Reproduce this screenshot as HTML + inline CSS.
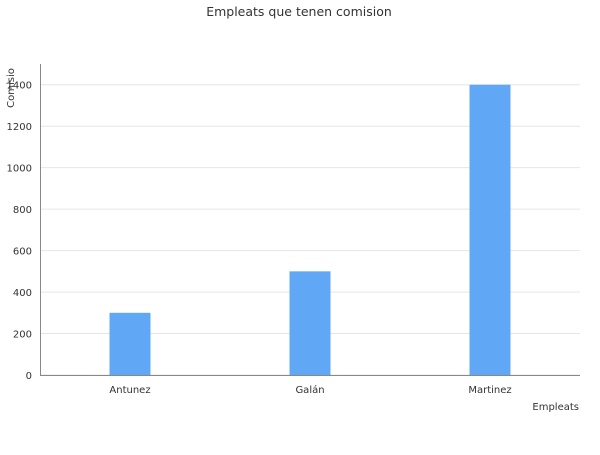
<!DOCTYPE html>
<html><head><meta charset="utf-8"><style>
body{margin:0;background:#fff;width:600px;height:450px;overflow:hidden}
text{font-family:"DejaVu Sans","Liberation Sans",sans-serif;fill:#333}
</style></head><body>
<svg id="chart" width="600" height="450" xmlns="http://www.w3.org/2000/svg">
<text x="299" y="16" font-size="12.5" text-anchor="middle">Empleats que tenen comision</text>
<g id="grid"></g><g id="bars"></g><g id="axes"></g>
<text transform="translate(14,88) rotate(-90)" font-size="10" text-anchor="middle">Comisio</text>
<text x="579" y="410" font-size="10" text-anchor="end">Empleats</text>
</svg>
<script>
const categories=["Antunez","Galán","Martinez"];
const values=[300,500,1400];
const yTicks=[0,200,400,600,800,1000,1200,1400];
const ns="http://www.w3.org/2000/svg";
const L=40,R=580,T=64,B=375,yMax=1500;
const y=v=>B-(v/yMax)*(B-T);
const band=(R-L)/categories.length;
const x=i=>L+band*i+band/2;
const g=document.getElementById('grid'),bg=document.getElementById('bars'),ax=document.getElementById('axes');
function mk(tag,at,p){const e=document.createElementNS(ns,tag);for(const k in at)e.setAttribute(k,at[k]);p.appendChild(e);return e;}
yTicks.forEach(t=>{
 const l=mk('line',{x1:L,x2:R,y1:y(t),y2:y(t),stroke:'#e6e6e6','stroke-width':1},g);
 
 
 const tx=mk('text',{x:32,y:y(t)+4,'font-size':10,'text-anchor':'end'},ax);
 tx.textContent=t;
 
 
});
categories.forEach((c,i)=>{
 const r=mk('rect',{x:x(i)-20.5,y:y(values[i]),width:41,height:B-y(values[i]),fill:'#60a8f6'},bg);
 
 
 const tx=mk('text',{x:x(i),y:393,'font-size':10,'text-anchor':'middle'},ax);
 tx.textContent=c;
 
 
});
const ya=mk('line',{x1:L+0.5,x2:L+0.5,y1:T,y2:B,stroke:'#888'},ax);


const xa=mk('line',{x1:L,x2:R,y1:B+0.5,y2:B+0.5,stroke:'#888'},ax);


</script>
</body></html>
